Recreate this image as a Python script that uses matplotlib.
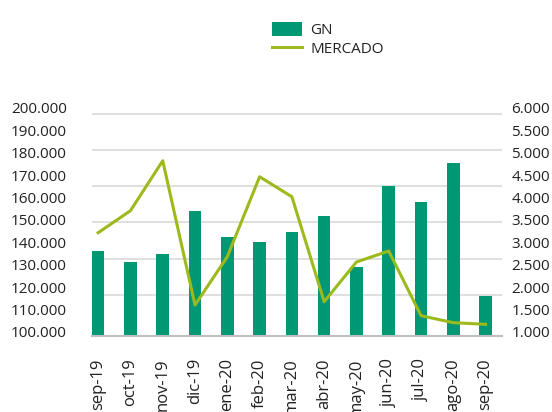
import numpy as np
import matplotlib
matplotlib.use("Agg")
import matplotlib.pyplot as plt
import matplotlib.transforms as mtransforms

plt.rcParams["font.family"] = ["Open Sans", "DejaVu Sans"]

# Data
months = ["sep-19", "oct-19", "nov-19", "dic-19", "ene-20", "feb-20", "mar-20",
          "abr-20", "may-20", "jun-20", "jul-20", "ago-20", "sep-20"]
gn = [137900, 133000, 136600, 155800, 144300, 142000, 146400,
      153600, 130800, 167000, 159800, 177200, 117900]
mercado = [3306, 3797, 4913, 1692, 2770, 4556, 4109,
           1766, 2652, 2897, 1453, 1297, 1261]

left_ticks = np.arange(100000, 200001, 10000)
right_ticks = np.arange(1000, 6001, 500)

bar_color = "#009874"
line_color = "#9dba1c"
text_color = "#222222"

fig = plt.figure(figsize=(5.52, 4.12), dpi=100)
ax = fig.add_axes([0.1667, 0.1845, 0.7423, 0.5435])
ax2 = ax.twinx()

x = np.arange(len(months))

# light gridlines (their spacing in the original doesn't follow the tick labels)
for g in 199000 - 16100 * np.arange(6):
    ax.axhline(g, color="#d9d9d9", lw=1.2, zorder=0)

ax.bar(x, gn, width=0.39, color=bar_color, zorder=2, label="GN")
ax2.plot(x, mercado, color=line_color, lw=2.2, label="MERCADO", zorder=3)

ax.set_ylim(100000, 200000)
ax2.set_ylim(1000, 6000)
ax.set_xlim(-0.19, 12.5)

ax.set_yticks(left_ticks)
ax.set_yticklabels([f"{v:,.0f}".replace(",", ".") for v in left_ticks])
ax2.set_yticks(right_ticks)
ax2.set_yticklabels([f"{v:,.0f}".replace(",", ".") for v in right_ticks])

ax.set_xticks(x)
ax.set_xticklabels(months, rotation=90, va="top", ha="center")

for a in (ax, ax2):
    for s in a.spines.values():
        s.set_visible(False)
    a.tick_params(length=0, labelsize=11, colors=text_color)
ax.spines["bottom"].set_visible(True)
ax.spines["bottom"].set_color("#bfbfbf")
ax.spines["bottom"].set_linewidth(1.5)
ax.tick_params(axis="y", pad=18)
ax.tick_params(axis="x", pad=16, labelsize=12)
ax2.tick_params(axis="y", pad=7)

# y labels sit a few pixels above their tick in the original
shift = mtransforms.ScaledTranslation(0, 3 / 72, fig.dpi_scale_trans)
for lab in ax.get_yticklabels() + ax2.get_yticklabels():
    lab.set_transform(lab.get_transform() + shift)

h1, l1 = ax.get_legend_handles_labels()
h2, l2 = ax2.get_legend_handles_labels()
fig.legend(h1 + h2, l1 + l2, loc="upper left",
           bbox_to_anchor=(264 / 552, 1 - 14 / 412),
           frameon=False, fontsize=11, handlelength=2.0, handleheight=1.1,
           labelspacing=0.15, handletextpad=0.55, borderpad=0,
           labelcolor=text_color)

fig.savefig("out.png", dpi=100)
